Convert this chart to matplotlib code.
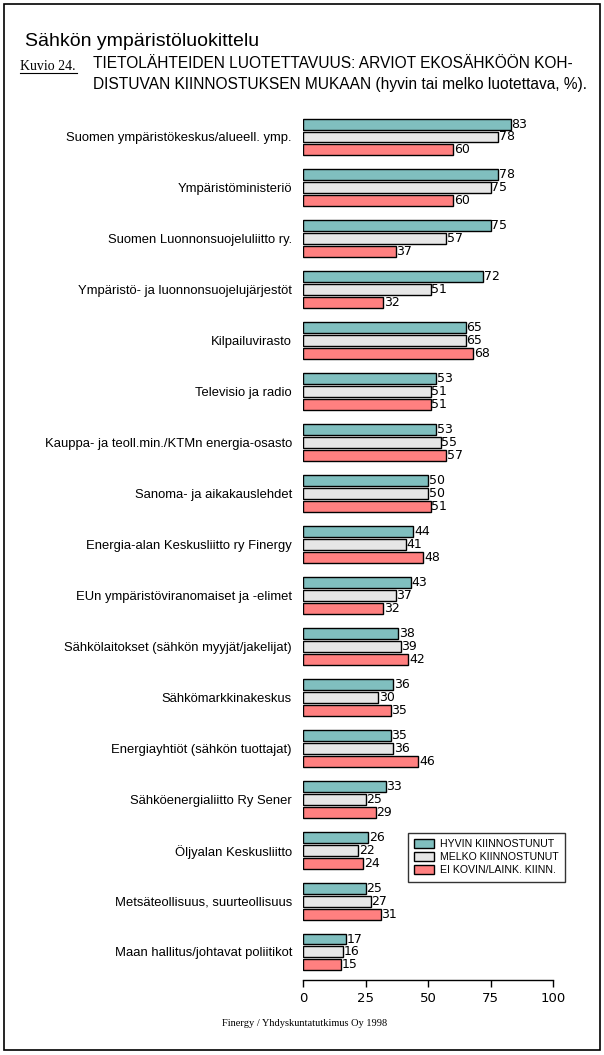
import numpy as np
import matplotlib.pyplot as plt
from matplotlib.patches import Rectangle

categories = [
    "Suomen ympäristökeskus/alueell. ymp.",
    "Ympäristöministeriö",
    "Suomen Luonnonsuojeluliitto ry.",
    "Ympäristö- ja luonnonsuojelujärjestöt",
    "Kilpailuvirasto",
    "Televisio ja radio",
    "Kauppa- ja teoll.min./KTMn energia-osasto",
    "Sanoma- ja aikakauslehdet",
    "Energia-alan Keskusliitto ry Finergy",
    "EUn ympäristöviranomaiset ja -elimet",
    "Sähkölaitokset (sähkön myyjät/jakelijat)",
    "Sähkömarkkinakeskus",
    "Energiayhtiöt (sähkön tuottajat)",
    "Sähköenergialiitto Ry Sener",
    "Öljyalan Keskusliitto",
    "Metsäteollisuus, suurteollisuus",
    "Maan hallitus/johtavat poliitikot",
]
hyvin = [83, 78, 75, 72, 65, 53, 53, 50, 44, 43, 38, 36, 35, 33, 26, 25, 17]
melko = [78, 75, 57, 51, 65, 51, 55, 50, 41, 37, 39, 30, 36, 25, 22, 27, 16]
ei = [60, 60, 37, 32, 68, 51, 57, 51, 48, 32, 42, 35, 46, 29, 24, 31, 15]
series_labels = ["HYVIN KIINNOSTUNUT", "MELKO KIINNOSTUNUT", "EI KOVIN/LAINK. KIINN."]
colors = ["#80BFBF", "#E6E6E6", "#FF8080"]

W, H = 604, 1055
fig = plt.figure(figsize=(W / 100, H / 100), dpi=100)
plt.rc('font', family='Liberation Sans')

# frame around the whole chart
fig.patches.append(Rectangle((4 / W, 1 - 1050 / H), 596 / W, 1046 / H,
                             transform=fig.transFigure, fill=False,
                             edgecolor='black', linewidth=1.2))

ax = fig.add_axes([303 / W, 1 - 980 / H, 250 / W, 870 / H])

y = np.arange(len(categories))
off = 13 / 51
h = 11 / 51
for vals, dy, c in zip([hyvin, melko, ei], [-off, 0, off], colors):
    bars = ax.barh(y + dy, vals, height=h, color=c, edgecolor='black', linewidth=1)
    for b, v in zip(bars, vals):
        ax.text(v + 0.4, b.get_y() + h / 2, str(v), va='center', ha='left',
                fontsize=9, family='Liberation Sans Narrow')

ax.set_xlim(0, 100)
ax.set_ylim(16 + 0.55, -0.53)
ax.set_yticks(y)
ax.set_yticklabels(categories, fontsize=9.4)
ax.tick_params(axis='y', length=0, pad=8)
ax.set_xticks([0, 25, 50, 75, 100])
ax.tick_params(axis='x', length=5, labelsize=9.5, width=1, direction='out')
for lbl in ax.get_xticklabels():
    lbl.set_family('Liberation Sans Narrow')
for s in ['top', 'right', 'left']:
    ax.spines[s].set_visible(False)
ax.spines['bottom'].set_linewidth(1)
ax.set_facecolor('none')

leg = ax.legend(series_labels, loc='upper left', bbox_to_anchor=((408 - 303) / 250, 1 - (833 - 110) / 870),
                fontsize=7.6, frameon=True, fancybox=False, edgecolor='black',
                handlelength=1.9, handleheight=0.9, borderpad=0.6, labelspacing=0.28,
                handletextpad=0.5, borderaxespad=0)
leg.get_frame().set_linewidth(1)

fig.text(25 / W, 1 - 42 / H, "Sähkön ympäristöluokittelu", fontsize=14, va='center')
fig.text(20 / W, 1 - 66 / H, "Kuvio 24.", fontsize=10, family='Liberation Serif', va='center')
fig.add_artist(plt.Line2D([20 / W, 77 / W], [1 - 73 / H, 1 - 73 / H], color='black', linewidth=0.8))
fig.text(93 / W, 1 - 64 / H, "TIETOLÄHTEIDEN LUOTETTAVUUS: ARVIOT EKOSÄHKÖÖN KOH-", fontsize=11.2, va='center')
fig.text(93 / W, 1 - 84 / H, "DISTUVAN KIINNOSTUKSEN MUKAAN (hyvin tai melko luotettava, %).", fontsize=11.2, va='center')
fig.text(305 / W, 1 - 1023 / H, "Finergy / Yhdyskuntatutkimus Oy 1998", fontsize=7.5,
         family='Liberation Serif', ha='center', va='center')

fig.savefig("out.png", dpi=100)
